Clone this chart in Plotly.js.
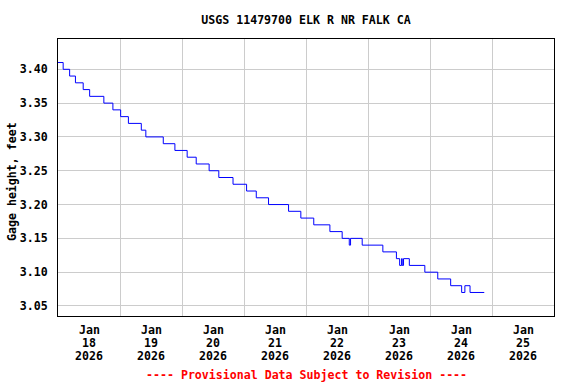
<!DOCTYPE html>
<html>
<head>
<meta charset="utf-8">
<script src="https://cdn.plot.ly/plotly-3.0.1.min.js"></script>
<style>html,body{margin:0;padding:0;background:#fff;}#chart{width:576px;height:384px;}</style>
</head>
<body>
<div id="chart"></div>
<script>
// Gage height change points (value holds until the next time)
const times = [
  '2026-01-18 00:00','2026-01-18 02:00','2026-01-18 04:30','2026-01-18 06:45','2026-01-18 09:45',
  '2026-01-18 12:15','2026-01-18 17:45','2026-01-18 21:15','2026-01-19 00:15','2026-01-19 03:15',
  '2026-01-19 08:15','2026-01-19 10:00','2026-01-19 16:45','2026-01-19 21:15','2026-01-20 02:00',
  '2026-01-20 05:30','2026-01-20 10:30','2026-01-20 14:15','2026-01-20 19:45','2026-01-21 01:00',
  '2026-01-21 04:45','2026-01-21 09:30','2026-01-21 17:15','2026-01-21 22:00','2026-01-22 03:00',
  '2026-01-22 09:15','2026-01-22 14:00','2026-01-22 16:45','2026-01-22 17:15','2026-01-22 21:45',
  '2026-01-23 05:45','2026-01-23 11:00','2026-01-23 12:15','2026-01-23 13:00','2026-01-23 13:15',
  '2026-01-23 13:45','2026-01-23 16:00','2026-01-23 22:00','2026-01-24 03:00','2026-01-24 08:00',
  '2026-01-24 12:15','2026-01-24 13:30','2026-01-24 15:30','2026-01-24 21:00'
];
const gageHeight = [
  3.41,3.40,3.39,3.38,3.37,
  3.36,3.35,3.34,3.33,3.32,
  3.31,3.30,3.29,3.28,3.27,
  3.26,3.25,3.24,3.23,3.22,
  3.21,3.20,3.19,3.18,3.17,
  3.16,3.15,3.14,3.15,3.14,
  3.13,3.12,3.11,3.12,3.11,
  3.12,3.11,3.10,3.09,3.08,
  3.07,3.08,3.07,3.07
];
// x tick labels (centred on each day)
const tickPos = ['2026-01-18 12:00','2026-01-19 12:00','2026-01-20 12:00','2026-01-21 12:00',
                 '2026-01-22 12:00','2026-01-23 12:00','2026-01-24 12:00','2026-01-25 12:00'];
const tickMonth = ['Jan','Jan','Jan','Jan','Jan','Jan','Jan','Jan'];
const tickDay = ['18','19','20','21','22','23','24','25'];
const tickYear = ['2026','2026','2026','2026','2026','2026','2026','2026'];

const titleText = 'USGS 11479700 ELK R NR FALK CA';
const yTitle = 'Gage height, feet';
const footer = '---- Provisional Data Subject to Revision ----';
const xRange = ['2026-01-18 00:00','2026-01-26 00:00'];
const yRange = [3.0352, 3.4448];

const FONT = '"DejaVu Sans Mono", "Liberation Mono", monospace';
const FS = 11.6;
const W = 576, H = 384, L = 58, R = 22, T = 39, B = 68;
const pw = W - L - R, ph = H - T - B;
const py2paper = py => (H - B - py) / ph;

const trace = {
  x: times, y: gageHeight, type: 'scatter', mode: 'lines',
  line: {color: '#0000ff', width: 1, shape: 'hv'}, hoverinfo: 'skip'
};

const boldFont = (c) => ({family: FONT, size: FS, color: c || '#000', weight: 'bold'});

const annotations = [
  {text: yTitle, xref: 'paper', yref: 'paper', x: (12 - L)/pw, y: py2paper(182),
   xanchor: 'center', yanchor: 'middle', textangle: -90, showarrow: false, font: boldFont()},
  {text: footer, xref: 'paper', yref: 'paper', x: 0.5, y: py2paper(375),
   xanchor: 'center', yanchor: 'middle', showarrow: false, font: boldFont('#ff0000')}
];
const rows = [[tickMonth, 330], [tickDay, 343], [tickYear, 356]];
rows.forEach(([labels, py]) => {
  labels.forEach((lab, i) => {
    annotations.push({text: lab, xref: 'x', yref: 'paper', x: tickPos[i], y: py2paper(py),
      xanchor: 'center', yanchor: 'middle', showarrow: false, font: boldFont()});
  });
});

const layout = {
  width: W, height: H,
  margin: {l: L, r: R, t: T, b: B, pad: 0},
  paper_bgcolor: '#ffffff', plot_bgcolor: '#ffffff',
  showlegend: false,
  font: {family: FONT, size: FS, color: '#000'},
  xaxis: {
    type: 'date', range: xRange, dtick: 86400000, tick0: '2026-01-18',
    showticklabels: false,
    showgrid: true, gridcolor: '#cccccc', gridwidth: 1,
    ticks: '', showline: true, linecolor: '#000', linewidth: 1, mirror: true,
    zeroline: false
  },
  yaxis: {
    range: yRange, dtick: 0.05, tick0: 3.0, tickformat: '.2f',
    showgrid: true, gridcolor: '#cccccc', gridwidth: 1,
    ticks: '', showline: true, linecolor: '#000', linewidth: 1, mirror: true,
    zeroline: false, tickfont: boldFont(),
    ticklabelstandoff: 7
  },
  title: {
    text: titleText, font: boldFont(),
    xref: 'paper', x: 0.5, xanchor: 'center', yref: 'container', y: 1 - 19.5/H, yanchor: 'middle'
  },
  annotations: annotations
};

Plotly.newPlot('chart', [trace], layout, {staticPlot: true, displayModeBar: false});
</script>
</body>
</html>
